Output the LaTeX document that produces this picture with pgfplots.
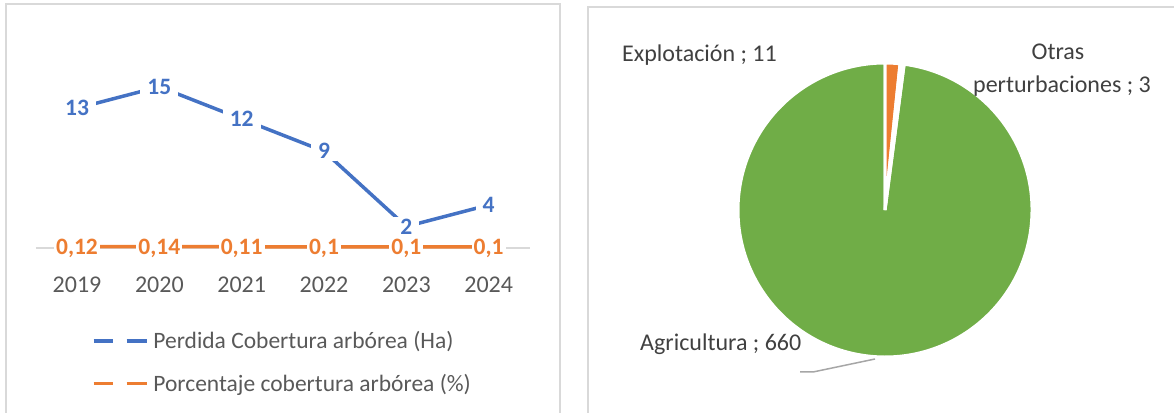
\documentclass[border=0pt]{standalone}
\usepackage{pgfplots}
\pgfplotsset{compat=1.18}
\usepackage{pgfplotstable}
\usepackage{fontspec}
\setmainfont{Carlito}
\definecolor{cblue}{HTML}{4472C4}
\definecolor{corange}{HTML}{ED7D31}
\definecolor{cgreen}{HTML}{70AD47}
\definecolor{ctext}{HTML}{595959}
\definecolor{cdark}{HTML}{404040}
\definecolor{cframe}{HTML}{D9D9D9}
\definecolor{clead}{HTML}{A6A6A6}

\pgfplotstableread{
x y lab
0 13 13
1 15 15
2 12 12
3 9 9
4 2 2
5 4 4
}\tblHa
\pgfplotstableread{
x y lab
0 0.12 0,12
1 0.14 0,14
2 0.11 0,11
3 0.1 0,1
4 0.1 0,1
5 0.1 0,1
}\tblPct

% pie values
\def\vExp{11}
\def\vOtr{3}
\def\vAgr{660}

\begin{document}
\begin{tikzpicture}

\begin{axis}[
  at={(77pt,164pt)}, anchor=origin,
  scale only axis, width=494pt, height=215pt,
  xmin=-0.5, xmax=5.5, ymin=0, ymax=20,
  axis x line*=bottom, axis y line=none,
  x axis line style={draw=cframe, line width=1.5pt, -},
  xtick={0,...,5}, xticklabels={2019,2020,2021,2022,2023,2024},
  major tick length=0pt,
  xticklabel style={font=\fontsize{24}{28}\selectfont, text=ctext, anchor=base, yshift=-44pt},
  clip=false,
  nodes near coords, point meta=explicit symbolic,
  legend cell align=left,
  legend image code/.code={\draw[#1, dash pattern=on 19pt off 14pt on 20pt off 0pt] (0pt,0pt) -- (53pt,0pt);},
  legend style={at={(axis description cs:0.107,-0.378)}, anchor=north west, draw=none, fill=none,
    font=\fontsize{23.5}{28}\selectfont, text=ctext, row sep=24pt, column sep=5pt,
    nodes={inner sep=0pt}},
]
\addplot[cblue, line width=3.5pt,
  every node near coord/.append style={anchor=center, fill=white, inner xsep=7pt, inner ysep=2pt,
    text=cblue, font=\fontsize{23.5}{28}\selectfont\bfseries}]
  table[x=x,y=y,meta=lab]{\tblHa};
\addlegendentry{Perdida Cobertura arbórea (Ha)}
\addplot[corange, line width=3.5pt,
  every node near coord/.append style={anchor=center, fill=white, inner xsep=2pt, inner ysep=1pt,
    text depth=0pt, text=corange, font=\fontsize{23.5}{28}\selectfont\bfseries}]
  table[x=x,y=y,meta=lab]{\tblPct};
\addlegendentry{Porcentaje cobertura arbórea (\%)}
\end{axis}

\pgfmathsetmacro\tot{\vExp+\vOtr+\vAgr}
\pgfmathsetmacro\angA{90}
\pgfmathsetmacro\angB{90-360*\vExp/\tot}
\pgfmathsetmacro\angC{\angB-360*\vOtr/\tot}
\pgfmathsetmacro\angD{90-360}

\begin{axis}[
  at={(885pt,202pt)}, anchor=origin,
  scale only axis, width=400pt, height=400pt,
  xmin=-1.3605, xmax=1.3605, ymin=-1.3605, ymax=1.3605,
  hide axis, clip=false,
]
\filldraw[fill=cgreen, draw=white, line width=3pt] (axis cs:0,0) -- (axis cs:{cos(\angC)},{sin(\angC)}) arc[start angle=\angC, end angle=\angD, radius=147pt] -- cycle;
\filldraw[fill=corange, draw=white, line width=3pt] (axis cs:0,0) -- (axis cs:{cos(\angA)},{sin(\angA)}) arc[start angle=\angA, end angle=\angB, radius=147pt] -- cycle;
\filldraw[fill=white, draw=white, line width=3pt] (axis cs:0,0) -- (axis cs:{cos(\angB)},{sin(\angB)}) arc[start angle=\angB, end angle=\angC, radius=147pt] -- cycle;
\end{axis}

\draw[cframe, line width=2pt] (6pt,-5pt) -- (6pt,408pt) -- (560pt,408pt) -- (560pt,-5pt);
\draw[cframe, line width=2pt] (588pt,-5pt) -- (588pt,405pt) -- (1180pt,405pt);
\begin{scope}[every node/.style={inner sep=0pt, text=cdark, font=\fontsize{24}{28}\selectfont}]
\node[anchor=base west] at (622pt,350.5pt) {Explotación ; 11};
\node[anchor=base] at (1058pt,352.5pt) {Otras};
\node[anchor=base] at (1062pt,319.5pt) {perturbaciones ; 3};
\node[anchor=base west] at (640pt,61.5pt) {Agricultura ; 660};
\end{scope}
\draw[clead, line width=1.5pt] (800pt,40pt) -- (813pt,40pt) -- (875pt,53pt);
\pgfresetboundingbox
\useasboundingbox (0pt,0pt) rectangle (1174pt,412pt);
\end{tikzpicture}
\end{document}
